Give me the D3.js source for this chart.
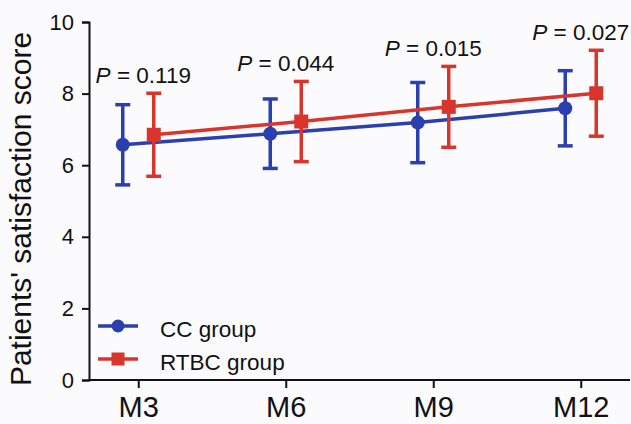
<!DOCTYPE html>
<html><head><meta charset="utf-8">
<script src="https://cdn.jsdelivr.net/npm/d3@7"></script>
<style>
body{margin:0;background:#fbfbfd;}
svg{display:block;}
text{font-family:"Liberation Sans",Arial,Helvetica,sans-serif;}
</style></head>
<body><svg id="c" width="631" height="424"></svg>
<script>
const categories = ["M3","M6","M9","M12"];
const ccMean = [6.57, 6.88, 7.19, 7.59];
const ccSD   = [1.12, 0.97, 1.12, 1.05];
const rtbcMean = [6.85, 7.22, 7.63, 8.01];
const rtbcSD   = [1.16, 1.12, 1.13, 1.20];
const pLabels = ["0.119","0.044","0.015","0.027"];
const yTicks = [0,2,4,6,8,10];
const seriesNames = ["CC group","RTBC group"];

const svg = d3.select("#c");
const blue = "#2b3fae", red = "#d8362c";
const x = d3.scalePoint().domain(categories).range([89,630]).padding(0.334);
const y = d3.scaleLinear().domain([0,10]).range([380,22]);
const off = 15.5;

// axes
const yAx = svg.append("g").attr("transform","translate(89,0)")
  .call(d3.axisLeft(y).tickValues(yTicks).tickSize(7).tickPadding(8));
yAx.selectAll("text").attr("font-size",22).attr("fill","#111");
const xAx = svg.append("g").attr("transform","translate(0,380)")
  .call(d3.axisBottom(x).tickSize(8).tickPadding(8).tickSizeOuter(0));
xAx.selectAll("text").attr("font-size",29).attr("fill","#111");
[yAx,xAx].forEach(a=>{a.attr("font-family",null);a.selectAll("line,path").attr("stroke","#111").attr("stroke-width",2);});
xAx.select(".domain").attr("d","M89,0H630");

svg.append("text").attr("transform","translate(31,209) rotate(-90)")
  .attr("text-anchor","middle").attr("font-size",30).attr("fill","#111")
  .text("Patients' satisfaction score");

function series(mean, sd, color, dx, shape){
  const g = svg.append("g");
  const pts = categories.map((c,i)=>({x:x(c)+dx, m:mean[i], s:sd[i]}));
  g.append("path").attr("d", d3.line().x(d=>d.x).y(d=>y(d.m))(pts))
    .attr("fill","none").attr("stroke",color).attr("stroke-width",3.5);
  pts.forEach(d=>{
    g.append("line").attr("x1",d.x).attr("x2",d.x).attr("y1",y(d.m-d.s)).attr("y2",y(d.m+d.s))
      .attr("stroke",color).attr("stroke-width",3.5);
    [d.m-d.s,d.m+d.s].forEach(v=>g.append("line").attr("x1",d.x-7.5).attr("x2",d.x+7.5)
      .attr("y1",y(v)).attr("y2",y(v)).attr("stroke",color).attr("stroke-width",3.5));
    if(shape==="circle") g.append("circle").attr("cx",d.x).attr("cy",y(d.m)).attr("r",7).attr("fill",color);
    else g.append("rect").attr("x",d.x-7).attr("y",y(d.m)-7).attr("width",14).attr("height",14).attr("fill",color);
  });
}
series(ccMean, ccSD, blue, -off, "circle");
series(rtbcMean, rtbcSD, red, off, "square");

// P labels
categories.forEach((c,i)=>{
  const t = svg.append("text").attr("x",x(c)+(i===0?5:0)).attr("y",y(rtbcMean[i]+rtbcSD[i])-10)
    .attr("text-anchor","middle").attr("font-size",22.5).attr("fill","#111");
  t.append("tspan").attr("font-style","italic").text("P");
  t.append("tspan").text(" = "+pLabels[i]);
});

// legend
const leg = [{n:seriesNames[0],c:blue,s:"circle",y:326},{n:seriesNames[1],c:red,s:"square",y:359}];
leg.forEach(l=>{
  svg.append("line").attr("x1",98).attr("x2",138).attr("y1",l.y).attr("y2",l.y).attr("stroke",l.c).attr("stroke-width",3.5);
  if(l.s==="circle") svg.append("circle").attr("cx",118).attr("cy",l.y).attr("r",6.5).attr("fill",l.c);
  else svg.append("rect").attr("x",111.5).attr("y",l.y-6.5).attr("width",13).attr("height",13).attr("fill",l.c);
  svg.append("text").attr("x",160).attr("y",l.y+11).attr("font-size",22.5).attr("fill","#111").text(l.n);
});
</script></body></html>
